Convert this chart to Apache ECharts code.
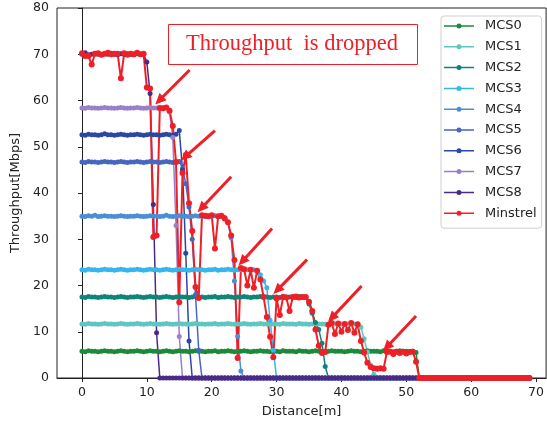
<!DOCTYPE html>
<html>
<head>
<meta charset="utf-8">
<style>
  html, body { margin: 0; padding: 0; background: #fff; }
  #main { width: 547px; height: 428px; }
</style>
<script src="https://cdn.jsdelivr.net/npm/echarts@6/dist/echarts.min.js"></script>
</head>
<body>
<div id="main"></div>
<script>
// distance samples [m]
var distances = [
  0,0.5,1,1.5,2,2.5,3,3.5,4,4.5,
  5,5.5,6,6.5,7,7.5,8,8.5,9,9.5,
  10,10.5,11,11.5,12,12.5,13,13.5,14,14.5,
  15,15.5,16,16.5,17,17.5,18,18.5,19,19.5,
  20,20.5,21,21.5,22,22.5,23,23.5,24,24.5,
  25,25.5,26,26.5,27,27.5,28,28.5,29,29.5,
  30,30.5,31,31.5,32,32.5,33,33.5,34,34.5,
  35,35.5,36,36.5,37,37.5,38,38.5,39,39.5,
  40,40.5,41,41.5,42,42.5,43,43.5,44,44.5,
  45,45.5,46,46.5,47,47.5,48,48.5,49,49.5,
  50,50.5,51,51.5,52,52.5,53,53.5,54,54.5,
  55,55.5,56,56.5,57,57.5,58,58.5,59,59.5,
  60,60.5,61,61.5,62,62.5,63,63.5,64,64.5,
  65,65.5,66,66.5,67,67.5,68,68.5,69
];

var mcs0 = [
  5.8,5.7,5.9,5.8,5.8,5.7,5.8,5.9,5.8,5.8,
  5.7,5.8,5.9,5.8,5.7,5.8,5.8,5.9,5.8,5.7,
  5.8,5.9,5.8,5.8,5.7,5.8,5.9,5.8,5.7,5.8,
  5.9,5.8,5.8,5.7,5.8,5.9,5.8,5.8,5.7,5.8,
  5.8,5.9,5.7,5.8,5.8,5.9,5.8,5.7,5.8,5.8,
  5.9,5.8,5.7,5.8,5.8,5.9,5.8,5.8,5.7,5.8,
  5.8,5.7,5.9,5.8,5.8,5.8,5.7,5.9,5.8,5.8,
  5.7,5.8,5.9,5.8,5.8,5.7,5.8,5.9,5.8,5.8,
  5.8,5.7,5.8,5.9,5.8,5.8,5.7,5.8,5.9,5.8,
  5.8,5.8,5.7,5.9,5.8,5.8,5.7,5.8,5.9,5.8,
  5.8,5.7,5.8,5.5,0,0,0,0,0,0,
  0,0,0,0,0,0,0,0,0,0,
  0,0,0,0,0,0,0,0,0,0,
  0,0,0,0,0,0,0,0,0
];

var mcs1 = [
  11.7,11.6,11.8,11.7,11.7,11.6,11.7,11.8,11.7,11.7,
  11.6,11.7,11.8,11.7,11.6,11.7,11.7,11.8,11.7,11.6,
  11.7,11.8,11.7,11.7,11.6,11.7,11.8,11.7,11.6,11.7,
  11.8,11.7,11.7,11.6,11.7,11.8,11.7,11.7,11.6,11.7,
  11.7,11.8,11.6,11.7,11.7,11.8,11.7,11.6,11.7,11.7,
  11.8,11.7,11.6,11.7,11.7,11.8,11.7,11.7,11.6,11.7,
  11.7,11.6,11.8,11.7,11.7,11.7,11.6,11.8,11.7,11.7,
  11.6,11.7,11.8,11.7,11.7,11.6,11.7,11.8,11.7,11.7,
  11.7,11.6,11.7,11.8,11.7,11.6,11.0,8.5,5.6,2.8,
  0.8,0,0,0,0,0,0,0,0,0,
  0,0,0,0,0,0,0,0,0,0,
  0,0,0,0,0,0,0,0,0,0,
  0,0,0,0,0,0,0,0,0,0,
  0,0,0,0,0,0,0,0,0
];

var mcs2 = [
  17.5,17.4,17.6,17.5,17.5,17.4,17.5,17.6,17.5,17.5,
  17.4,17.5,17.6,17.5,17.4,17.5,17.5,17.6,17.5,17.4,
  17.5,17.6,17.5,17.5,17.4,17.5,17.6,17.5,17.4,17.5,
  17.6,17.5,17.5,17.4,17.5,17.6,17.5,17.5,17.4,17.5,
  17.5,17.6,17.4,17.5,17.5,17.6,17.5,17.4,17.5,17.5,
  17.6,17.5,17.4,17.5,17.5,17.6,17.5,17.5,17.4,17.5,
  17.5,17.4,17.6,17.5,17.5,17.5,17.4,17.6,17.5,17.4,
  16.0,14.0,12.0,10.5,7.5,2.5,0,0,0,0,
  0,0,0,0,0,0,0,0,0,0,
  0,0,0,0,0,0,0,0,0,0,
  0,0,0,0,0,0,0,0,0,0,
  0,0,0,0,0,0,0,0,0,0,
  0,0,0,0,0,0,0,0,0,0,
  0,0,0,0,0,0,0,0,0
];

var mcs3 = [
  23.4,23.3,23.5,23.4,23.4,23.3,23.4,23.5,23.4,23.4,
  23.3,23.4,23.5,23.4,23.3,23.4,23.4,23.5,23.4,23.3,
  23.4,23.5,23.4,23.4,23.3,23.4,23.5,23.4,23.3,23.4,
  23.5,23.4,23.4,23.3,23.4,23.5,23.4,23.4,23.3,23.4,
  23.4,23.5,23.3,23.4,23.4,23.5,23.4,23.3,23.4,23.4,
  23.5,23.4,23.3,23.4,23.2,22.3,21.0,19.5,12.5,6.0,
  0,0,0,0,0,0,0,0,0,0,
  0,0,0,0,0,0,0,0,0,0,
  0,0,0,0,0,0,0,0,0,0,
  0,0,0,0,0,0,0,0,0,0,
  0,0,0,0,0,0,0,0,0,0,
  0,0,0,0,0,0,0,0,0,0,
  0,0,0,0,0,0,0,0,0,0,
  0,0,0,0,0,0,0,0,0
];

var mcs4 = [
  35.0,34.9,35.1,35.0,35.2,34.9,35.0,35.1,35.0,35.0,
  34.9,35.0,35.1,35.0,34.9,35.0,35.0,35.1,35.0,34.9,
  35.0,35.1,35.0,35.0,34.9,35.0,35.2,35.0,34.9,35.0,
  35.1,35.0,35.0,34.9,35.0,35.1,35.0,35.0,34.9,35.0,
  35.0,35.1,34.9,35.0,34.7,33.7,30.3,21.0,9.0,1.5,
  0,0,0,0,0,0,0,0,0,0,
  0,0,0,0,0,0,0,0,0,0,
  0,0,0,0,0,0,0,0,0,0,
  0,0,0,0,0,0,0,0,0,0,
  0,0,0,0,0,0,0,0,0,0,
  0,0,0,0,0,0,0,0,0,0,
  0,0,0,0,0,0,0,0,0,0,
  0,0,0,0,0,0,0,0,0,0,
  0,0,0,0,0,0,0,0,0
];

var mcs5 = [
  46.7,46.6,46.8,46.7,46.7,46.6,46.7,46.8,46.7,46.7,
  46.6,46.7,46.8,46.7,46.6,46.7,46.7,46.8,46.7,46.6,
  46.7,46.8,46.7,46.7,46.6,46.7,46.8,46.7,46.6,46.7,
  46.8,45.3,42.0,37.0,30.0,18.0,6.0,0,0,0,
  0,0,0,0,0,0,0,0,0,0,
  0,0,0,0,0,0,0,0,0,0,
  0,0,0,0,0,0,0,0,0,0,
  0,0,0,0,0,0,0,0,0,0,
  0,0,0,0,0,0,0,0,0,0,
  0,0,0,0,0,0,0,0,0,0,
  0,0,0,0,0,0,0,0,0,0,
  0,0,0,0,0,0,0,0,0,0,
  0,0,0,0,0,0,0,0,0,0,
  0,0,0,0,0,0,0,0,0
];

var mcs6 = [
  52.6,52.5,52.7,52.6,52.6,52.5,52.6,52.8,52.6,52.6,
  52.5,52.6,52.7,52.6,52.5,52.6,52.6,52.7,52.6,52.5,
  52.6,52.7,52.6,52.6,52.5,52.6,52.7,52.6,52.5,52.7,
  53.5,45.0,27.0,8.0,0,0,0,0,0,0,
  0,0,0,0,0,0,0,0,0,0,
  0,0,0,0,0,0,0,0,0,0,
  0,0,0,0,0,0,0,0,0,0,
  0,0,0,0,0,0,0,0,0,0,
  0,0,0,0,0,0,0,0,0,0,
  0,0,0,0,0,0,0,0,0,0,
  0,0,0,0,0,0,0,0,0,0,
  0,0,0,0,0,0,0,0,0,0,
  0,0,0,0,0,0,0,0,0,0,
  0,0,0,0,0,0,0,0,0
];

var mcs7 = [
  58.4,58.3,58.5,58.4,58.4,58.3,58.4,58.5,58.4,58.4,
  58.3,58.4,58.5,58.4,58.3,58.4,58.4,58.5,58.4,58.3,
  58.4,58.5,58.4,58.4,58.3,58.4,58.5,57.5,52.0,33.0,
  9.0,0,0,0,0,0,0,0,0,0,
  0,0,0,0,0,0,0,0,0,0,
  0,0,0,0,0,0,0,0,0,0,
  0,0,0,0,0,0,0,0,0,0,
  0,0,0,0,0,0,0,0,0,0,
  0,0,0,0,0,0,0,0,0,0,
  0,0,0,0,0,0,0,0,0,0,
  0,0,0,0,0,0,0,0,0,0,
  0,0,0,0,0,0,0,0,0,0,
  0,0,0,0,0,0,0,0,0,0,
  0,0,0,0,0,0,0,0,0
];

var mcs8 = [
  70.0,70.3,69.9,70.0,70.1,70.0,69.9,70.1,70.0,70.2,
  70.0,69.9,70.1,70.0,70.1,70.0,69.9,70.1,70.0,70.0,
  68.3,61.5,37.5,9.8,0,0,0,0,0,0,
  0,0,0,0,0,0,0,0,0,0,
  0,0,0,0,0,0,0,0,0,0,
  0,0,0,0,0,0,0,0,0,0,
  0,0,0,0,0,0,0,0,0,0,
  0,0,0,0,0,0,0,0,0,0,
  0,0,0,0,0,0,0,0,0,0,
  0,0,0,0,0,0,0,0,0,0,
  0,0,0,0,0,0,0,0,0,0,
  0,0,0,0,0,0,0,0,0,0,
  0,0,0,0,0,0,0,0,0,0,
  0,0,0,0,0,0,0,0,0
];

var minstrel = [
  70.2,69.6,69.6,67.8,70.1,70.2,69.9,70.1,70.3,70.0,
  70.1,70.1,64.8,70.2,69.9,70.1,70.0,70.3,70.0,70.1,
  62.8,62.6,30.5,30.8,58.4,58.3,58.5,57.8,54.5,46.7,
  16.4,44.3,48.2,37.8,31.8,19.7,17.3,35.2,35.1,35.0,
  35.2,28.0,35.0,35.1,34.5,33.7,30.8,25.5,4.3,23.8,
  23.5,20.0,23.4,19.5,23.2,21.3,17.5,13.2,8.9,4.5,
  17.2,13.6,17.5,17.4,14.5,17.5,17.6,17.4,17.5,17.5,
  16.5,14.5,10.5,7.0,5.4,5.6,11.5,11.9,9.5,11.8,
  10.0,11.7,10.4,11.9,9.8,11.6,8.0,5.5,3.3,2.4,
  2.1,2.0,2.1,2.0,5.6,5.7,5.2,5.7,5.4,5.7,
  5.3,5.6,5.7,3.5,0,0,0,0,0,0,
  0,0,0,0,0,0,0,0,0,0,
  0,0,0,0,0,0,0,0,0,0,
  0,0,0,0,0,0,0,0,0
];

var names = ['MCS0','MCS1','MCS2','MCS3','MCS4','MCS5','MCS6','MCS7','MCS8','Minstrel'];
var values = [mcs0, mcs1, mcs2, mcs3, mcs4, mcs5, mcs6, mcs7, mcs8, minstrel];
var colors = ['#1b8a3a','#5ec7bf','#0f8479','#35b6ec','#4a8fd6','#4666c2','#2a47a6','#9a80c8','#4a2a88','#ee1f26'];
var xTicks = [0,10,20,30,40,50,60,70];

// arrows: [tail, head] in data units
var arrows = [
  [[16.6,66.6],[11.9,60.0]],
  [[20.5,53.5],[15.9,47.8]],
  [[23.0,43.5],[18.4,36.7]],
  [[29.3,32.3],[24.7,25.2]],
  [[34.7,25.6],[30.1,19.0]],
  [[43.1,19.9],[38.5,13.0]],
  [[51.5,13.4],[47.0,6.7]]
];

var font = 'DejaVu Sans';
// legend marker: thin line with a dot, in a 30x14 box
var legendIcon = 'path://M0,0M30,14M0,6.25H30V7.75H0Z M17.5,7A2.5,2.5,0,1,1,12.5,7A2.5,2.5,0,1,1,17.5,7Z';

var myChart = echarts.init(document.getElementById('main'));

var series = names.map(function (name, k) {
  var isM = name === 'Minstrel';
  var s = {
    name: name,
    type: 'line',
    data: values[k].map(function (v, i) { return [distances[i], v]; }),
    symbol: 'circle',
    symbolSize: isM ? 6 : 5,
    showSymbol: true,
    lineStyle: { color: colors[k], width: isM ? 2 : 1.5 },
    itemStyle: { color: colors[k] },
    emphasis: { disabled: true }
  };
  if (isM) {
    s.markLine = {
      silent: true,
      symbol: ['none', 'triangle'],
      symbolSize: [10, 11],
      label: { show: false },
      lineStyle: { color: '#ee1f26', width: 3, type: 'solid' },
      data: arrows.map(function (a) {
        return [{ coord: a[0] }, { coord: a[1] }];
      })
    };
  }
  return s;
});

var option = {
  animation: false,
  grid: {
    left: 57, right: 0, top: 8, bottom: 50,
    show: true, borderColor: '#222', borderWidth: 1
  },
  legend: {
    data: names,
    orient: 'vertical',
    left: 441,
    top: 16,
    padding: [3, 5, 8, 3],
    icon: legendIcon,
    itemWidth: 30,
    itemHeight: 14,
    itemGap: 6.8,
    backgroundColor: '#fff',
    borderColor: '#d0d0d0',
    borderWidth: 1,
    borderRadius: 3,
    textStyle: { fontFamily: font, fontSize: 13, color: '#222', padding: [0, 0, 0, 6] }
  },
  xAxis: {
    type: 'value',
    min: -3.85,
    max: 71.55,
    name: 'Distance[m]',
    nameLocation: 'middle',
    nameGap: 27,
    nameTextStyle: { fontFamily: font, fontSize: 13, color: '#222' },
    axisLine: { lineStyle: { color: '#222' } },
    axisTick: { show: true, length: 4, customValues: xTicks, lineStyle: { color: '#222' } },
    axisLabel: { customValues: xTicks, fontFamily: font, fontSize: 12.5, color: '#222', margin: 8 },
    splitLine: { show: false }
  },
  yAxis: {
    type: 'value',
    min: 0,
    max: 80,
    interval: 10,
    name: 'Throughput[Mbps]',
    nameLocation: 'middle',
    nameGap: 35,
    nameTextStyle: { fontFamily: font, fontSize: 13, color: '#222' },
    axisLine: { show: true, lineStyle: { color: '#222' } },
    axisTick: { show: true, length: 4, lineStyle: { color: '#222' } },
    axisLabel: { fontFamily: font, fontSize: 12.5, color: '#222', margin: 8 },
    splitLine: { show: false }
  },
  graphic: [
    {
      type: 'rect',
      shape: { x: 168.5, y: 24.5, width: 249, height: 40 },
      style: { fill: '#fff', stroke: '#ee1f26', lineWidth: 1 },
      z: 100
    },
    {
      type: 'text',
      x: 292,
      y: 44,
      style: {
        text: 'Throughput  is dropped',
        fill: '#ee1f26',
        font: '22.5px "Liberation Serif"',
        textAlign: 'center',
        textVerticalAlign: 'middle'
      },
      z: 101
    }
  ],
  series: series
};

myChart.setOption(option);
</script>
</body>
</html>
